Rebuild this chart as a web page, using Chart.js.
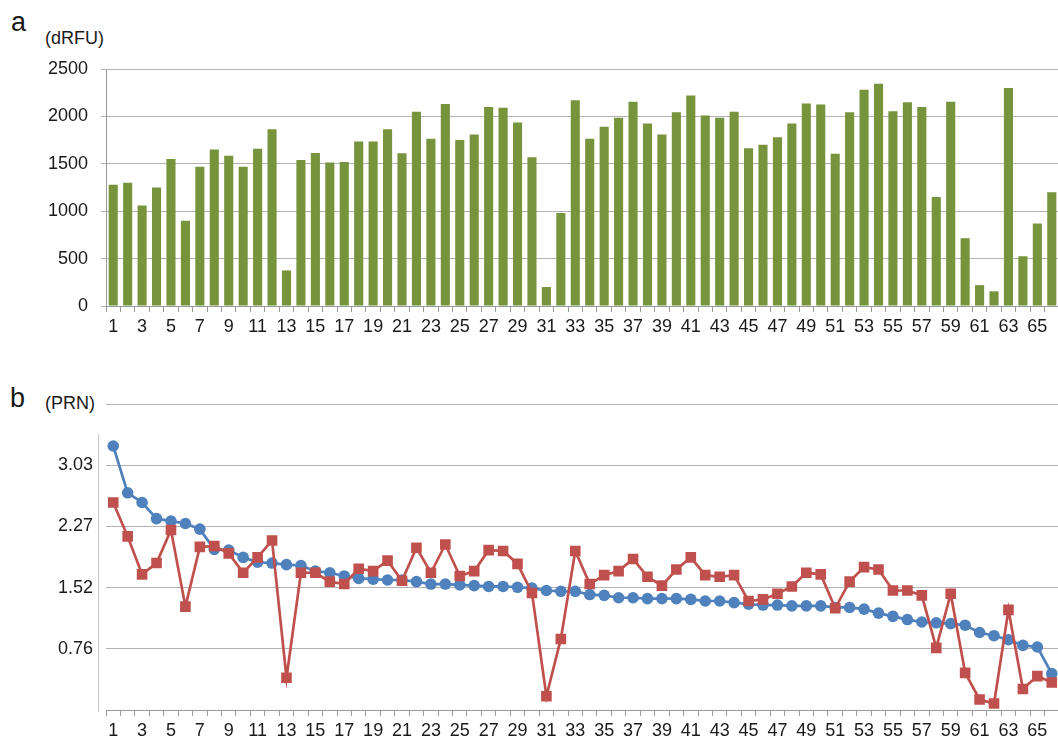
<!DOCTYPE html>
<html>
<head>
<meta charset="utf-8">
<script src="https://cdn.jsdelivr.net/npm/chart.js@4"></script>
<style>
  html, body { margin: 0; padding: 0; background: #fff; width: 1058px; height: 738px; overflow: hidden; }
  body { position: relative; font-family: "Liberation Sans", Arial, sans-serif; color: #1a1a1a; }
  .box { position: absolute; left: 0; width: 1075px; }
  .lbl { position: absolute; white-space: nowrap; }
  .panel { font-size: 27px; line-height: 27px; }
  .unit { font-size: 18px; line-height: 18px; }
</style>
</head>
<body>
<div class="lbl panel" style="left:11px; top:9px;">a</div>
<div class="lbl unit" style="left:45px; top:29px;">(dRFU)</div>
<div class="lbl panel" style="left:10px; top:385px;">b</div>
<div class="lbl unit" style="left:45px; top:394px;">(PRN)</div>

<div class="box" style="top:0; height:345px;"><canvas id="chartA"></canvas></div>
<div class="box" style="top:360px; height:378px;"><canvas id="chartB"></canvas></div>

<script>
// sample numbers 1..66
const sampleLabels = [];
for (let i = 1; i <= 66; i++) sampleLabels.push(String(i));

// panel a: dRFU per sample
const drfuValues = [
  1280, 1300, 1060, 1250, 1550, 900, 1470, 1650, 1585, 1470,
  1660, 1865, 375, 1540, 1615, 1515, 1520, 1735, 1735, 1865,
  1610, 2050, 1765, 2130, 1750, 1810, 2100, 2090, 1935, 1570,
  200, 980, 2170, 1765, 1890, 1985, 2155, 1925, 1810, 2045,
  2220, 2010, 1985, 2050, 1665, 1700, 1780, 1925, 2135, 2125,
  1605, 2045, 2280, 2345, 2055, 2150, 2100, 1150, 2155, 715,
  220, 155, 2300, 525, 870, 1200
];

// panel b: PRN, blue series (sorted) and red series
const prnBlue = [
  3.27, 2.69, 2.57, 2.37, 2.34, 2.31, 2.24, 1.99, 1.98, 1.89,
  1.83, 1.82, 1.80, 1.79, 1.72, 1.70, 1.66, 1.63, 1.62, 1.61,
  1.61, 1.59, 1.56, 1.56, 1.55, 1.54, 1.53, 1.53, 1.52, 1.51,
  1.48, 1.47, 1.47, 1.43, 1.42, 1.39, 1.39, 1.38, 1.38, 1.38,
  1.37, 1.35, 1.35, 1.33, 1.31, 1.30, 1.30, 1.29, 1.29, 1.29,
  1.27, 1.27, 1.25, 1.20, 1.16, 1.12, 1.09, 1.08, 1.07, 1.05,
  0.96, 0.92, 0.87, 0.80, 0.78, 0.45
];
const prnRed = [
  2.57, 2.15, 1.68, 1.82, 2.23, 1.28, 2.02, 2.03, 1.94, 1.70,
  1.89, 2.10, 0.40, 1.70, 1.70, 1.59, 1.56, 1.75, 1.72, 1.85,
  1.60, 2.01, 1.70, 2.05, 1.66, 1.72, 1.98, 1.97, 1.81, 1.45,
  0.17, 0.88, 1.97, 1.56, 1.67, 1.72, 1.87, 1.65, 1.54, 1.74,
  1.89, 1.67, 1.65, 1.67, 1.35, 1.37, 1.44, 1.53, 1.70, 1.68,
  1.26, 1.59, 1.77, 1.74, 1.48, 1.48, 1.42, 0.77, 1.44, 0.46,
  0.13, 0.08, 1.24, 0.26, 0.42, 0.34
];

const drfuTicks = [0, 500, 1000, 1500, 2000, 2500];
const prnTicks = [0, 0.758, 1.516, 2.274, 3.032, 3.79];

const fontFamily = '"Liberation Sans", Arial, sans-serif';
const gridColor = '#b3b3b3';
const axisColor = '#9a9a9a';

Chart.defaults.font.family = fontFamily;
Chart.defaults.font.size = 18;
Chart.defaults.color = '#1a1a1a';
Chart.defaults.animation = false;

function oddOnly(value, index) {
  return index % 2 === 0 ? sampleLabels[index] : '';
}

const xAxisCommon = {
  type: 'category',
  offset: true,
  grid: {
    offset: true,
    drawOnChartArea: false,
    drawTicks: true,
    tickLength: 6,
    color: axisColor
  },
  border: { display: true, color: axisColor },
  ticks: { autoSkip: false, maxRotation: 0, padding: 4, callback: oddOnly }
};

const ctxA = document.getElementById('chartA').getContext('2d');
const chartA = new Chart(ctxA, {
  type: 'bar',
  data: {
    labels: sampleLabels,
    datasets: [{
      label: 'dRFU',
      data: drfuValues,
      backgroundColor: '#77933c',
      borderWidth: 0,
      barPercentage: 0.63,
      categoryPercentage: 1
    }]
  },
  options: {
    responsive: true,
    maintainAspectRatio: false,
    layout: { padding: { top: 69, right: 16, left: 0, bottom: 0 } },
    plugins: { legend: { display: false }, tooltip: { enabled: false } },
    scales: {
      x: Object.assign({}, xAxisCommon, {
        afterFit: function(scale) { scale.height = 39; }
      }),
      y: {
        min: 0,
        max: 2500,
        afterBuildTicks: function(scale) {
          scale.ticks = drfuTicks.map(v => ({ value: v }));
        },
        afterFit: function(scale) { scale.width = 106; },
        grid: { color: gridColor, drawTicks: true, tickLength: 5 },
        border: { display: true, color: axisColor },
        ticks: { padding: 13, callback: value => String(value) }
      }
    }
  }
});

// the left axis line of panel b is short, as in the original figure
const shortAxisLine = {
  id: 'shortAxisLine',
  afterDraw(chart) {
    const y = chart.scales.y;
    const c = chart.ctx;
    const x = chart.chartArea.left - 8;
    c.save();
    c.strokeStyle = '#c8c8c8';
    c.lineWidth = 1;
    c.beginPath();
    c.moveTo(x + 0.5, y.getPixelForValue(3.42));
    c.lineTo(x + 0.5, y.getPixelForValue(0) + 2);
    c.stroke();
    c.restore();
  }
};

const ctxB = document.getElementById('chartB').getContext('2d');
const chartB = new Chart(ctxB, {
  type: 'line',
  data: {
    labels: sampleLabels,
    datasets: [
      {
        label: 'blue',
        data: prnBlue,
        borderColor: '#4f81bd',
        backgroundColor: '#4f81bd',
        borderWidth: 2.7,
        pointStyle: 'circle',
        pointRadius: 5.8,
        pointBorderWidth: 0,
        tension: 0,
        order: 2
      },
      {
        label: 'red',
        data: prnRed,
        borderColor: '#c0504d',
        backgroundColor: '#c0504d',
        borderWidth: 2.7,
        pointStyle: 'rect',
        pointRadius: 7.5,
        pointBorderWidth: 0,
        tension: 0,
        order: 1
      }
    ]
  },
  options: {
    responsive: true,
    maintainAspectRatio: false,
    layout: { padding: { top: 44, right: 16, left: 0, bottom: 0 } },
    plugins: { legend: { display: false }, tooltip: { enabled: false } },
    scales: {
      x: Object.assign({}, xAxisCommon, {
        afterFit: function(scale) { scale.height = 28; }
      }),
      y: {
        min: 0,
        max: 3.79,
        afterBuildTicks: function(scale) {
          scale.ticks = prnTicks.map(v => ({ value: v }));
        },
        afterFit: function(scale) { scale.width = 106; },
        grid: { color: gridColor, drawTicks: false },
        border: { display: false },
        ticks: {
          padding: 13,
          callback: function(value, index) {
            if (index === 0 || index === prnTicks.length - 1) return '';
            return value.toFixed(2);
          }
        }
      }
    }
  },
  plugins: [shortAxisLine]
});
</script>
</body>
</html>
